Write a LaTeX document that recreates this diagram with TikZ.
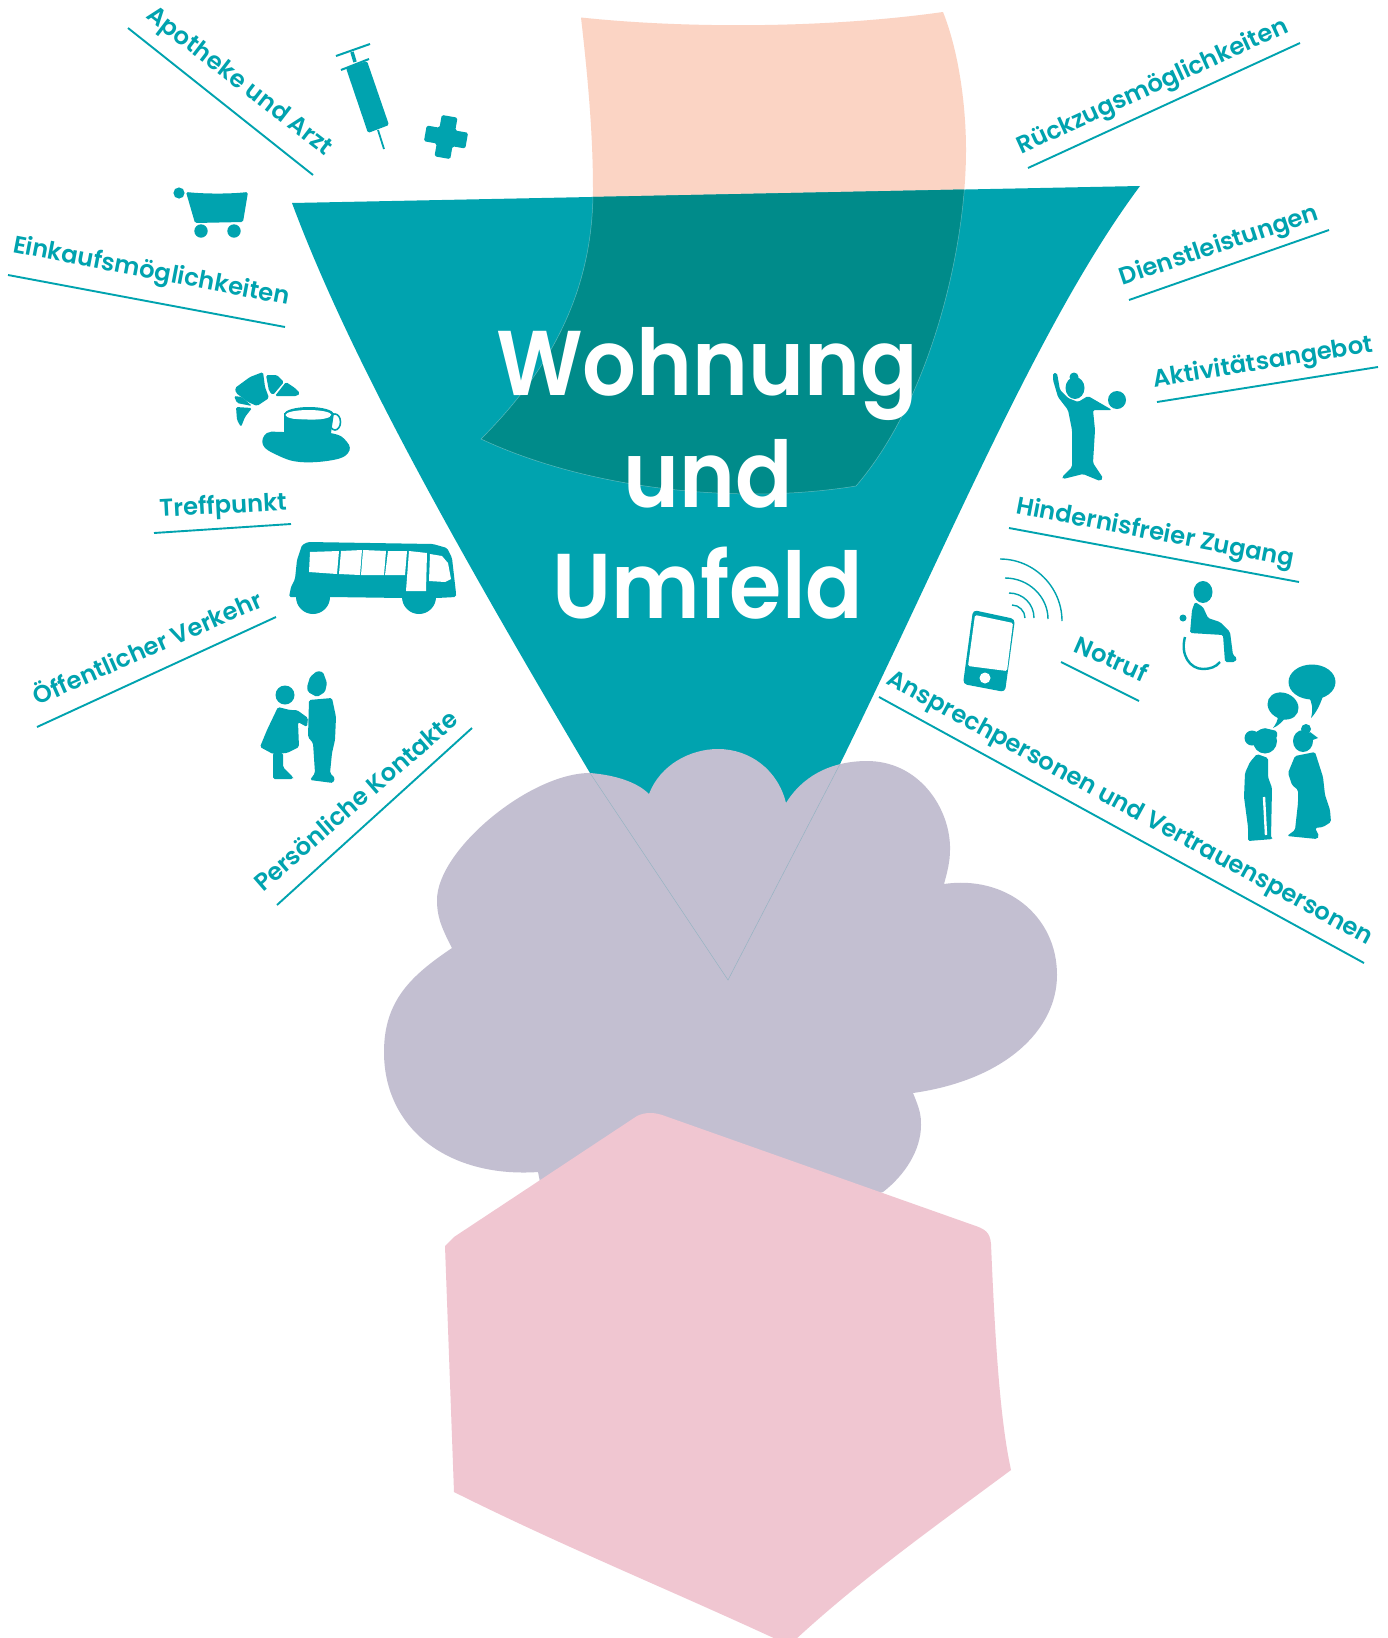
\documentclass[tikz,border=0pt]{standalone}
\usepackage{fontspec}
\setmainfont{Poppins SemiBold}
\newfontfamily\bigfont{Poppins SemiBold}[FakeStretch=0.92]
\definecolor{teal1}{RGB}{0,163,175}
\definecolor{tealdark}{RGB}{0,139,138}
\definecolor{peach}{RGB}{251,212,196}
\definecolor{lav}{RGB}{195,191,209}
\definecolor{pinkc}{RGB}{240,198,209}
\tikzset{
  rule/.style={draw=teal1,line width=1.9pt},
  lbl/.style={text=teal1,font=\fontsize{24.2}{28}\selectfont,inner sep=0pt},
  big/.style={text=white,font=\bigfont\fontsize{92}{100}\selectfont,inner sep=0pt,anchor=base},
  ico/.style={fill=teal1,draw=none},
  soft/.style={ico,rounded corners=1.6pt},
  sig/.style={draw=teal1,line width=1.4pt},
}
\newcommand{\lab}[6]{%
  \coordinate (#1a) at (#2); \coordinate (#1b) at (#3);
  \coordinate (#1c) at (#4); \coordinate (#1d) at (#5);
  \draw[rule] (#1a) -- (#1b);
  \path (#1c) -- (#1d) node[lbl,midway,sloped,anchor=base] (#1) {#6};}
\newcommand{\funnelpath}{(292,203) -- (1140,186) .. controls (1040,320) and (950,540) .. (840,764) -- (728,980) -- (590,773) .. controls (440,520) and (345,345) .. (292,203) -- cycle}
\newcommand{\peachpath}{(581,17.5) .. controls (690,29) and (830,28) .. (943,12) .. controls (960,55) and (966,110) .. (966,150) .. controls (966,250) and (930,400) .. (856,486) .. controls (740,505) and (590,490) .. (481,439) .. controls (560,360) and (593,280) .. (593,190) .. controls (593,130) and (587,70) .. (581,17.5) -- cycle}
\begin{document}
\begin{tikzpicture}[x=1pt,y=-1pt]
\useasboundingbox (0,0) rectangle (1387,1638);
\fill[white] (0,0) rectangle (1387,1638);
% big shapes
\fill[peach] \peachpath;
\fill[teal1] \funnelpath;
\begin{scope}
  \clip \funnelpath;
  \fill[tealdark] \peachpath;
  \draw[white,opacity=.35,line width=.5pt] \peachpath;
\end{scope}
% cloud
\fill[lav] (590,773) .. controls (615,775) and (637,782) .. (649,794)
 .. controls (660,765) and (690,749) .. (718,749)
 .. controls (750,749) and (778,770) .. (786,803)
 .. controls (797,785) and (820,762) .. (865,761)
 .. controls (920,760) and (951,810) .. (950,850)
 .. controls (950,862) and (947,873) .. (944,884)
 .. controls (1005,875) and (1057,915) .. (1057,975)
 .. controls (1057,1030) and (1005,1080) .. (913,1093)
 .. controls (920,1110) and (921,1115) .. (921,1125)
 .. controls (921,1150) and (905,1175) .. (883,1192)
 -- (700,1250) -- (540,1182) -- (538,1172)
 .. controls (450,1178) and (384,1130) .. (384,1052)
 .. controls (384,1000) and (412,975) .. (452,948)
 .. controls (440,925) and (437,915) .. (437,900)
 .. controls (437,850) and (530,773) .. (590,773) -- cycle;
\draw[color={rgb,255:red,150;green,180;blue,195},line width=.5pt] (590,773) -- (728,980) -- (840,764);
% pink
\fill[pinkc] (454,1237) -- (637,1116) .. controls (645,1112) and (655,1112) .. (665,1116)
 -- (973,1225) .. controls (985,1229) and (990,1232) .. (991,1244)
 .. controls (995,1340) and (1000,1420) .. (1011,1470)
 .. controls (930,1530) and (860,1580) .. (795,1640) -- (778,1640)
 .. controls (670,1590) and (560,1545) .. (454,1492) -- (445,1246) -- cycle;
% central title
\node[big] (t1) at (707,395) {Wohnung};
\node[big] (t2) at (708,507) {und};
\node[big] (t3) at (708,618) {Umfeld};
% labels
\lab{apo}{128,28}{313,175}{140,14}{330,160}{Apotheke und Arzt}
\lab{ein}{8,275}{285,327}{12,252}{288,305}{Einkaufsmöglichkeiten}
\lab{tre}{154,533}{291,524}{158,517}{289,510}{Treffpunkt}
\lab{oef}{37,727}{276,617}{35,707}{267,605}{Öffentlicher Verkehr}
\lab{per}{277,905}{472,728}{263,893}{460,722}{Persönliche Kontakte}
\lab{rue}{1028,168}{1300,43}{1022,154}{1289,32}{Rückzugsmöglichkeiten}
\lab{die}{1129,300}{1329,230}{1124,285}{1319,220}{Dienstleistungen}
\lab{akt}{1157,402}{1378,367}{1155,387}{1373,352}{Aktivitätsangebot}
\lab{hin}{1009,528}{1299,582}{1013,513}{1295,567}{Hindernisfreier Zugang}
\lab{not}{1061,662}{1139,701}{1069,650}{1147,684}{Notruf}
\lab{ans}{879,697}{1364,963}{886,684}{1367,945}{Ansprechpersonen und Vertrauenspersonen}
% syringe
\draw[teal1,line width=2pt] (336,56) -- (370,44);
\draw[teal1,line width=3.5pt] (352,52) -- (355,62);
\draw[teal1,line width=2pt] (341,70) -- (369,59);
\fill[soft] (346,68) -- (367,61) -- (389,125) -- (368,133) -- cycle;
\draw[teal1,line width=1.8pt] (378,130) -- (384,149);
% plus
\begin{scope}[rotate around={-10:(446,137)}]
  \fill[soft] (438,116) -- (454,116) -- (454,129) -- (467,129) -- (467,145) -- (454,145) -- (454,158) -- (438,158) -- (438,145) -- (425,145) -- (425,129) -- (438,129) -- cycle;
\end{scope}
% cart
\fill[ico] (179,193) circle (5.6);
\fill[soft] (186,192) .. controls (205,194) and (230,194) .. (248,192) -- (243,222) -- (195,223) -- cycle;
\fill[ico] (201,231) circle (6.7) (234,231) circle (6.7);
% croissant
\fill[soft] (235,388) -- (250,377) -- (263,372) -- (265,387) -- (269,398) -- (257,406) -- (248,402) -- (236,393) -- cycle;
\fill[soft] (266,375) -- (277,375) -- (284,382) -- (273,395) -- (269,391) -- cycle;
\fill[soft] (286,382) -- (295,388) -- (300,393) -- (297,396) -- (275,396) -- cycle;
\fill[soft] (234,396) -- (242,397) -- (252,406) -- (237,403) -- cycle;
\fill[soft] (236,407) -- (252,408) -- (245,417) -- (241,427) -- (237,420) -- cycle;
% cup
\fill[ico] (284,413) -- (284,433) -- (331,433) -- (334,413) -- cycle;
\fill[ico] (309,414) circle[x radius=24.5,y radius=7];
\fill[white] (308.5,415) circle[x radius=23,y radius=5];
\draw[teal1,line width=1.6pt] (335,422) circle[x radius=5.5,y radius=8];
\fill[soft] (284,416) -- (284,432) -- (330,432) -- (333,417) -- (330,420) -- (285,419) -- cycle;
\fill[ico] plot[smooth cycle,tension=.7] coordinates {(267,433) (283,432) (330,433) (347,442) (348,453) (333,460) (300,462) (277,455) (263,445)};
% bus
\fill[soft] (289,597) -- (291,587) -- (295,579) -- (297,560) -- (302,545) -- (308,542) -- (433,544) -- (447,548) -- (452,558) -- (456,593) -- (456,597) -- (437,598) -- (403,598) -- (330,597) -- (297,597) -- cycle;
\fill[ico] (313,597) circle (17) (419,597) circle (17);
\fill[white] (310,552) -- (339,551) -- (337,574) -- (309,572) -- cycle;
\fill[white] (341,551) -- (362,550) -- (360,575) -- (339,574) -- cycle;
\fill[white] (363,550) -- (386,551) -- (384,575) -- (361,575) -- cycle;
\fill[white] (388,551) -- (407,551) -- (405,575) -- (385,575) -- cycle;
\fill[white] (409,551) -- (427,553) -- (426,591) -- (406,591) -- cycle;
\fill[white] (430,554) -- (442,556) -- (448,563) -- (451,579) -- (445,582) -- (429,581) -- cycle;
% couple
\fill[ico] (285,695) circle (9.5);
\fill[soft] (278,707) -- (290,710) -- (297,710) -- (308,718) -- (307,727) -- (298,722) -- (299,747) -- (287,753) -- (273,754) -- (260,747) -- (267,730) -- cycle;
\fill[soft] (273,753) -- (283,753) -- (283,767) -- (293,777) -- (293,779) -- (273,779) -- cycle;
\fill[soft] (307,687) -- (310,677) -- (317,671) -- (323,672) -- (327,683) -- (325,692) -- (317,697) -- (308,692) -- cycle;
\fill[soft] (309,700) -- (332,698) -- (336,717) -- (335,740) -- (332,753) -- (330,773) -- (335,778) -- (333,783) -- (310,780) -- (315,773) -- (313,743) -- (308,737) -- cycle;
% person with ball
\fill[ico] (1075,388) circle[x radius=9.5,y radius=11];
\fill[ico] (1074,377) circle (4.5);
\fill[soft] (1053,373) -- (1057,373) -- (1060,390) -- (1068,398) -- (1078,402) -- (1088,396) -- (1107,407) -- (1112,410) -- (1093,410) -- (1095,430) -- (1093,463) -- (1103,478) -- (1100,481) -- (1083,474) -- (1063,479) -- (1062,477) -- (1072,467) -- (1072,430) -- (1068,410) -- (1058,397) -- (1053,380) -- cycle;
\fill[ico] (1117,400) circle (9);
% wheelchair
\fill[ico] (1203,592) circle[x radius=9.5,y radius=11];
\fill[soft] (1195,602) -- (1203,607) -- (1208,618) -- (1220,622) -- (1230,632) -- (1233,655) -- (1237,658) -- (1235,662) -- (1225,662) -- (1223,635) -- (1190,633) -- (1192,610) -- cycle;
\fill[ico] (1183,618) circle (3.5);
\draw[teal1,line width=2.4pt] (1185,637) .. controls (1180,655) and (1190,669) .. (1203,669) .. controls (1210,669) and (1216,667) .. (1220,662);
% phone
\fill[ico,rounded corners=4pt] (973,610) -- (1015,619) -- (1005,692) -- (963,684) -- cycle;
\fill[white,rounded corners=1.5pt] (975,615) -- (1013,623) -- (1007,671) -- (968,666) -- cycle;
\fill[white] (985,678) circle (5.5);
\draw[sig] (1000,559) .. controls (1034,559) and (1062,587) .. (1062,621);
\draw[sig] (1005,578) .. controls (1029,578) and (1048,597) .. (1048,619);
\draw[sig] (1009,593) .. controls (1023,593) and (1034,604) .. (1034,618);
\draw[sig] (1012,605) .. controls (1019,605) and (1025,611) .. (1025,618);
% talking couple
\fill[ico] (1312,682) circle[x radius=23.5,y radius=17.5];
\fill[ico] (1308,696) -- (1323,696) .. controls (1320,705) and (1316,713) .. (1311,718) .. controls (1313,710) and (1313,703) .. (1308,696) -- cycle;
\fill[ico,rotate around={-25:(1283,706)}] (1283,706) circle[x radius=16,y radius=13];
\fill[ico] (1278,716) -- (1286,717) .. controls (1282,722) and (1278,726) .. (1273,728) .. controls (1276,724) and (1278,720) .. (1278,716) -- cycle;
\fill[ico] (1252,738) circle (7.5);
\fill[ico] (1265,741) circle[x radius=12,y radius=12.5];
\fill[soft] (1254,733) -- (1264,728) -- (1277,731) -- (1277,738) -- (1256,742) -- cycle;
\fill[soft] (1257,754) -- (1268,758) -- (1268,777) -- (1272,788) -- (1271,838) -- (1273,839) -- (1248,841) -- (1248,827) -- (1244,797) -- (1245,773) -- (1250,762) -- cycle;
\draw[white,line width=2.4pt] (1264,797) -- (1266,835);
\fill[ico] (1303,741) circle[x radius=10,y radius=11];
\fill[ico] (1306,729) circle (5);
\fill[ico] (1310,732) -- (1318,738) -- (1310,741) -- cycle;
\fill[soft] (1295,756) -- (1315,752) -- (1323,777) -- (1325,795) -- (1330,810) -- (1331,822) -- (1323,827) -- (1315,828) -- (1319,836) -- (1317,839) -- (1287,836) -- (1295,830) -- (1298,803) -- (1298,790) -- (1292,785) -- (1288,773) -- cycle;
\end{tikzpicture}
\end{document}
